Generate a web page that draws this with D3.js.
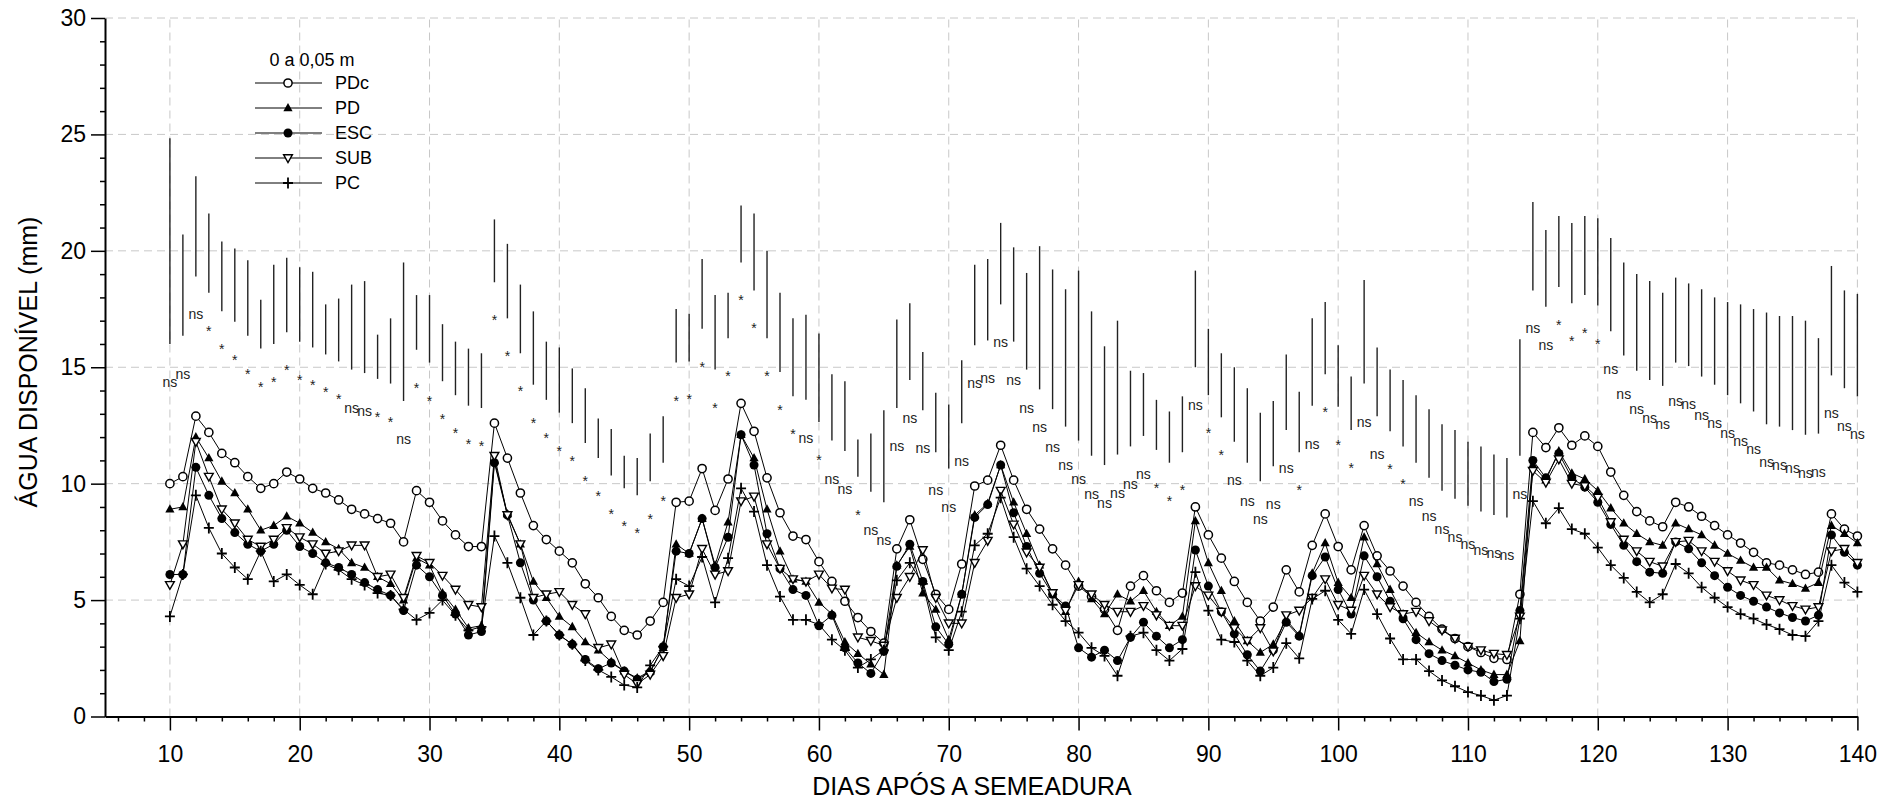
<!DOCTYPE html>
<html>
<head>
<meta charset="utf-8">
<script src="https://cdn.jsdelivr.net/npm/d3@7"></script>
<style>
  body { margin: 0; background: #fff; }
  text { font-family: "Liberation Sans", Arial, sans-serif; }
</style>
</head>
<body>
<div id="chart"></div>
<script>
// days after sowing
var days = d3.range(10, 141);

var pdc = [
  10.0,10.3,12.9,12.2,11.3,10.9,10.3,9.8,10.0,10.5,
  10.2,9.8,9.6,9.3,8.9,8.7,8.5,8.3,7.5,9.7,
  9.2,8.4,7.8,7.3,7.3,12.6,11.1,9.6,8.2,7.6,
  7.1,6.6,5.7,5.1,4.3,3.7,3.5,4.1,4.9,9.2,
  9.25,10.65,8.85,10.2,13.45,12.25,10.25,8.75,7.75,7.6,
  6.65,5.8,4.95,4.25,3.65,3.15,7.2,8.45,6.75,5.25,
  4.6,6.55,9.9,10.15,11.65,10.15,8.9,8.05,7.2,6.5,
  5.6,5.15,4.6,3.7,5.6,6.05,5.4,4.9,5.3,9.0,
  7.8,6.8,5.8,4.9,4.1,4.7,6.3,5.35,7.35,8.7,
  7.3,6.3,8.2,6.9,6.25,5.6,4.9,4.3,3.75,3.35,
  3.0,2.75,2.5,2.45,5.25,12.2,11.55,12.4,11.65,12.05,
  11.6,10.5,9.5,8.8,8.4,8.15,9.2,9.0,8.6,8.2,
  7.8,7.45,7.05,6.6,6.5,6.3,6.1,6.2,8.7,8.05,
  7.75];

var pd = [
  8.9,9.0,12.0,11.1,10.1,9.6,8.9,8.0,8.2,8.6,
  8.3,7.9,7.5,7.2,6.6,6.4,6.0,5.7,5.0,6.8,
  6.5,5.3,4.6,3.8,3.9,11.0,8.7,7.4,5.8,5.1,
  4.3,3.85,3.2,2.85,2.35,1.95,1.65,1.95,2.95,7.4,
  7.0,8.5,6.5,8.35,12.1,11.1,8.9,7.1,5.9,5.8,
  4.9,4.4,3.2,2.7,2.25,1.8,6.5,7.3,5.3,4.6,
  3.3,5.25,8.65,9.15,10.8,9.2,7.85,6.5,5.25,4.5,
  5.8,5.05,4.4,5.25,4.95,5.4,4.5,3.9,4.3,8.4,
  6.6,5.4,4.1,3.25,2.75,3.1,4.15,3.5,6.15,7.45,
  5.75,5.1,7.7,6.55,5.45,4.4,3.6,3.2,2.85,2.6,
  2.3,2.0,1.8,1.8,3.25,10.8,10.15,11.4,10.45,10.2,
  9.7,8.95,8.3,7.85,7.5,7.35,8.3,8.05,7.8,7.35,
  7.0,6.7,6.4,6.4,5.85,5.7,5.5,5.75,8.2,7.85,
  7.45];

var esc = [
  6.1,6.1,10.7,9.5,8.5,7.9,7.4,7.1,7.4,8.0,
  7.3,7.0,6.6,6.4,6.1,5.75,5.45,5.2,4.55,6.5,
  6.0,5.2,4.4,3.5,3.65,10.9,8.65,6.6,5.0,4.1,
  3.5,3.1,2.45,2.05,2.3,1.95,1.6,1.9,3.0,7.1,
  7.0,8.5,6.4,7.7,12.1,10.8,7.85,6.35,5.45,5.2,
  3.9,4.35,2.95,2.3,1.85,2.8,6.45,7.4,5.8,3.85,
  3.1,5.25,8.55,9.1,10.8,8.75,7.3,6.15,5.25,4.75,
  2.95,2.55,2.85,2.4,3.4,4.05,3.45,2.95,3.3,7.15,
  5.6,4.5,3.55,2.65,1.95,2.85,4.05,3.45,6.05,6.85,
  5.45,4.4,6.9,6.0,4.95,4.2,3.3,2.7,2.4,2.2,
  2.0,1.9,1.5,1.6,4.55,11.0,10.25,11.3,10.25,9.85,
  9.2,8.25,7.35,6.65,6.2,6.15,7.5,7.2,6.6,6.05,
  5.55,5.2,4.95,4.7,4.45,4.25,4.1,4.35,7.8,7.05,
  6.5];

var sub = [
  5.65,7.4,11.8,10.3,8.9,8.3,7.6,7.3,7.6,8.1,
  7.7,7.4,7.0,7.1,7.35,7.35,6.0,6.1,5.1,6.9,
  6.6,6.05,5.45,4.8,4.7,11.2,8.65,7.4,5.1,5.25,
  5.35,4.8,4.4,2.95,3.1,1.8,1.4,1.8,2.6,5.1,
  5.25,7.2,6.1,6.25,9.25,9.45,7.4,6.35,5.9,5.8,
  6.1,5.5,5.45,3.4,3.25,3.05,5.1,6.0,7.15,5.1,
  4.0,4.0,6.6,7.55,9.7,8.25,7.05,6.4,5.3,4.55,
  5.65,5.25,4.8,4.5,4.5,4.75,4.35,3.9,3.9,5.6,
  5.2,4.5,3.8,3.25,3.8,2.8,4.35,4.55,5.1,5.9,
  4.8,4.55,6.05,5.25,4.7,4.4,4.5,4.1,3.7,3.35,
  3.0,2.85,2.7,2.65,4.3,10.55,10.05,11.05,10.0,9.9,
  9.4,8.35,7.6,7.1,6.65,6.45,7.5,7.55,7.1,6.65,
  6.25,5.85,5.65,5.2,5.0,4.75,4.6,4.7,7.1,7.2,
  6.6];

var pc = [
  4.3,6.1,9.5,8.1,7.0,6.4,5.9,7.1,5.8,6.1,
  5.65,5.25,6.55,6.3,5.9,5.65,5.3,5.2,4.6,4.15,
  4.45,5.0,4.35,3.7,3.85,7.75,6.6,5.1,3.5,4.1,
  3.5,3.1,2.4,2.0,1.7,1.35,1.25,2.2,3.0,5.9,
  5.6,6.85,4.9,6.8,9.8,8.8,6.5,5.15,4.15,4.15,
  3.95,3.3,2.85,2.1,2.45,2.85,5.85,6.6,5.7,3.4,
  2.85,4.5,7.35,7.85,9.4,7.7,6.35,5.6,4.8,4.1,
  3.6,2.95,2.6,1.75,3.45,3.6,2.85,2.4,2.9,6.2,
  4.55,3.3,3.2,2.4,1.75,2.1,3.15,2.5,5.05,5.4,
  4.15,3.55,5.45,4.4,3.35,2.45,2.45,1.95,1.55,1.3,
  1.05,0.9,0.7,0.9,4.2,9.25,8.3,8.95,8.05,7.85,
  7.25,6.5,5.95,5.35,4.9,5.25,6.55,6.15,5.55,5.1,
  4.7,4.4,4.2,3.95,3.75,3.5,3.45,4.1,6.5,5.75,
  5.35];

// vertical bars (top / bottom) drawn above the curves
var barTop = [
  24.84,20.7,23.2,21.6,20.4,20.1,19.6,17.9,19.4,19.7,
  19.3,19.1,17.7,17.95,18.55,18.7,16.4,17.1,19.5,18.1,
  18.1,16.85,16.1,15.8,15.6,21.35,20.3,18.55,17.4,16.1,
  15.85,14.95,14.1,12.8,12.35,11.2,11.1,12.15,12.9,17.5,
  17.3,19.65,18.1,18.2,21.95,21.6,20.0,18.2,17.1,17.25,
  16.45,14.7,14.4,11.9,12.15,13.15,17.05,17.75,15.65,13.9,
  13.4,15.3,19.4,19.65,21.2,20.15,19.05,20.2,19.2,18.35,
  19.15,17.4,15.9,17.0,14.85,14.75,13.6,13.1,13.75,19.15,
  16.65,15.6,15.0,14.1,13.05,13.55,15.55,13.95,17.1,17.8,
  15.95,14.6,18.75,15.85,14.9,14.45,13.8,13.2,12.55,12.3,
  11.8,11.6,11.25,11.1,16.2,22.1,20.9,21.5,21.2,21.5,
  21.4,20.55,19.5,19.0,18.7,18.2,18.85,18.6,18.35,18.0,
  17.8,17.7,17.5,17.35,17.2,17.2,17.0,16.25,19.35,18.3,
  18.15];

var barLow = [
  16.0,16.35,18.9,18.2,17.4,16.95,16.35,15.8,16.0,16.5,
  16.1,15.85,15.55,15.25,14.9,14.75,14.5,14.3,13.55,15.75,
  15.2,14.4,13.8,13.35,13.25,18.65,17.1,15.6,14.25,13.6,
  13.05,12.6,11.75,11.1,10.35,9.8,9.5,10.1,10.9,15.2,
  15.25,16.65,14.9,16.25,19.5,18.3,16.25,14.8,13.75,13.6,
  12.65,11.85,11.4,10.3,9.65,9.2,13.25,14.45,13.15,11.35,
  10.65,12.6,15.95,16.15,17.7,16.1,14.9,14.05,13.2,12.45,
  11.85,11.2,10.8,11.25,11.6,12.05,11.45,10.9,11.35,15.0,
  13.8,12.85,11.8,10.9,10.1,10.75,12.3,11.35,13.35,14.7,
  13.3,12.3,14.3,12.9,12.25,11.6,10.9,10.25,9.7,9.35,
  9.05,8.8,8.65,8.55,11.2,18.3,17.6,18.45,17.75,18.1,
  17.65,16.55,15.5,14.85,14.45,14.2,15.2,15.05,14.6,14.25,
  13.8,13.45,13.1,12.55,12.45,12.3,12.1,12.15,14.65,14.1,
  13.75];

var sig = (
  "ns ns ns * * * * * * * * * * * ns ns * * ns * " +
  "* * * * * * * * * * * * * * * * * * * * " +
  "* * * * * * * * * ns * ns ns * ns ns ns ns ns ns " +
  "ns ns ns ns ns ns ns ns ns ns ns ns ns ns ns ns * * * ns " +
  "* * ns ns ns ns ns * ns * * * ns ns * * ns ns ns ns " +
  "ns ns ns ns ns ns ns * * * * ns ns ns ns ns ns ns ns ns " +
  "ns ns ns ns ns ns ns ns ns ns ns").split(" ");

var seriesNames = ["PDc", "PD", "ESC", "SUB", "PC"];
var seriesValues = [pdc, pd, esc, sub, pc];

var svgWidth = 1901, svgHeight = 803;

var svg = d3.select("#chart")
  .append("svg")
  .attr("width", svgWidth)
  .attr("height", svgHeight);

var x = d3.scaleLinear().domain([5, 140]).range([105, 1857.4]);
var y = d3.scaleLinear().domain([0, 30]).range([716.5, 18]);

// dashed grid
var grid = svg.append("g")
  .attr("stroke", "#c8c8c8")
  .attr("stroke-width", 1)
  .attr("stroke-dasharray", "8,5");

grid.selectAll(".gv")
  .data(d3.range(10, 141, 10))
  .enter().append("line")
  .attr("x1", function(d) { return x(d); })
  .attr("x2", function(d) { return x(d); })
  .attr("y1", y(0))
  .attr("y2", y(30));

grid.selectAll(".gh")
  .data(d3.range(5, 31, 5))
  .enter().append("line")
  .attr("x1", x(5))
  .attr("x2", x(140))
  .attr("y1", function(d) { return y(d); })
  .attr("y2", function(d) { return y(d); });

// bars
svg.append("g")
  .selectAll("line")
  .data(days)
  .enter().append("line")
  .attr("x1", function(d) { return x(d); })
  .attr("x2", function(d) { return x(d); })
  .attr("y1", function(d, i) { return y(barTop[i]); })
  .attr("y2", function(d, i) { return y(barLow[i]); })
  .attr("stroke", "#222")
  .attr("stroke-width", 1.4);

// ns / * labels under each bar
svg.append("g")
  .selectAll("text")
  .data(days)
  .enter().append("text")
  .attr("x", function(d) { return x(d); })
  .attr("y", function(d, i) { return y(barLow[i]) + 43; })
  .attr("text-anchor", "middle")
  .style("font-size", "14px")
  .style("fill", "#222")
  .text(function(d, i) { return sig[i]; });

// marker drawing
function drawMarker(g, name) {
  if (name === "PDc") {
    g.append("circle").attr("r", 4.1).attr("fill", "#fff").attr("stroke", "#000").attr("stroke-width", 1.5);
  } else if (name === "PD") {
    g.append("path").attr("d", "M0,-5L4.6,3.3L-4.6,3.3Z").attr("fill", "#000");
  } else if (name === "ESC") {
    g.append("circle").attr("r", 4.5).attr("fill", "#000");
  } else if (name === "SUB") {
    g.append("path").attr("d", "M-4.4,-3.3L4.4,-3.3L0,4.5Z").attr("fill", "#fff").attr("stroke", "#000").attr("stroke-width", 1.4);
  } else {
    g.append("path").attr("d", "M-5,0H5M0,-5.5V5.5").attr("stroke", "#000").attr("stroke-width", 1.8).attr("fill", "none");
  }
}

var line = d3.line()
  .x(function(d) { return x(d[0]); })
  .y(function(d) { return y(d[1]); });

seriesNames.forEach(function(name, k) {
  var pts = days.map(function(d, i) { return [d, seriesValues[k][i]]; });
  var g = svg.append("g");
  g.append("path")
    .attr("d", line(pts))
    .attr("fill", "none")
    .attr("stroke", "#000")
    .attr("stroke-width", 1);
  g.selectAll(".m")
    .data(pts)
    .enter().append("g")
    .attr("transform", function(d) { return "translate(" + x(d[0]) + "," + y(d[1]) + ")"; })
    .each(function() { drawMarker(d3.select(this), name); });
});

// axes
var majorX = d3.range(10, 141, 10);
var minorX = d3.range(6, 141, 2).filter(function(d) { return d % 10 !== 0; });
var majorY = d3.range(0, 31, 5);
var minorY = d3.range(1, 30).filter(function(d) { return d % 5 !== 0; });

var xMinor = svg.append("g")
  .attr("transform", "translate(0," + y(0) + ")")
  .call(d3.axisBottom(x).tickValues(minorX).tickSize(5).tickSizeOuter(0).tickFormat(""));
xMinor.select(".domain").remove();

var xAxis = svg.append("g")
  .attr("transform", "translate(0," + y(0) + ")")
  .call(d3.axisBottom(x).tickValues(majorX).tickSize(14).tickSizeOuter(0).tickPadding(15));

var yMinor = svg.append("g")
  .attr("transform", "translate(" + x(5) + ",0)")
  .call(d3.axisLeft(y).tickValues(minorY).tickSize(5).tickSizeOuter(0).tickFormat(""));
yMinor.select(".domain").remove();

var yAxis = svg.append("g")
  .attr("transform", "translate(" + x(5) + ",0)")
  .call(d3.axisLeft(y).tickValues(majorY).tickSize(14).tickSizeOuter(0).tickPadding(5));

svg.selectAll(".domain").attr("stroke-width", 2);
svg.selectAll(".tick line").attr("stroke-width", 1.5);
xAxis.selectAll("text").style("font-size", "23px").style("fill", "#000");
yAxis.selectAll("text").style("font-size", "23px").style("fill", "#000");

// axis titles
svg.append("text")
  .attr("transform", "translate(28,362) rotate(-90)")
  .attr("text-anchor", "middle")
  .attr("dy", "0.35em")
  .style("font-size", "25px")
  .text("ÁGUA DISPONÍVEL (mm)");

svg.append("text")
  .attr("x", 972)
  .attr("y", 795)
  .attr("text-anchor", "middle")
  .style("font-size", "25px")
  .text("DIAS APÓS A SEMEADURA");

// legend
var legend = svg.append("g");
legend.append("text")
  .attr("x", 312)
  .attr("y", 66)
  .attr("text-anchor", "middle")
  .style("font-size", "18px")
  .text("0 a 0,05 m");

seriesNames.forEach(function(name, k) {
  var ly = 83 + k * 25;
  legend.append("line")
    .attr("x1", 255).attr("x2", 322)
    .attr("y1", ly).attr("y2", ly)
    .attr("stroke", "#000").attr("stroke-width", 1);
  var mg = legend.append("g").attr("transform", "translate(288," + ly + ")");
  drawMarker(mg, name);
  legend.append("text")
    .attr("x", 335)
    .attr("y", ly)
    .attr("dy", "0.35em")
    .style("font-size", "18px")
    .text(name);
});
</script>
</body>
</html>
